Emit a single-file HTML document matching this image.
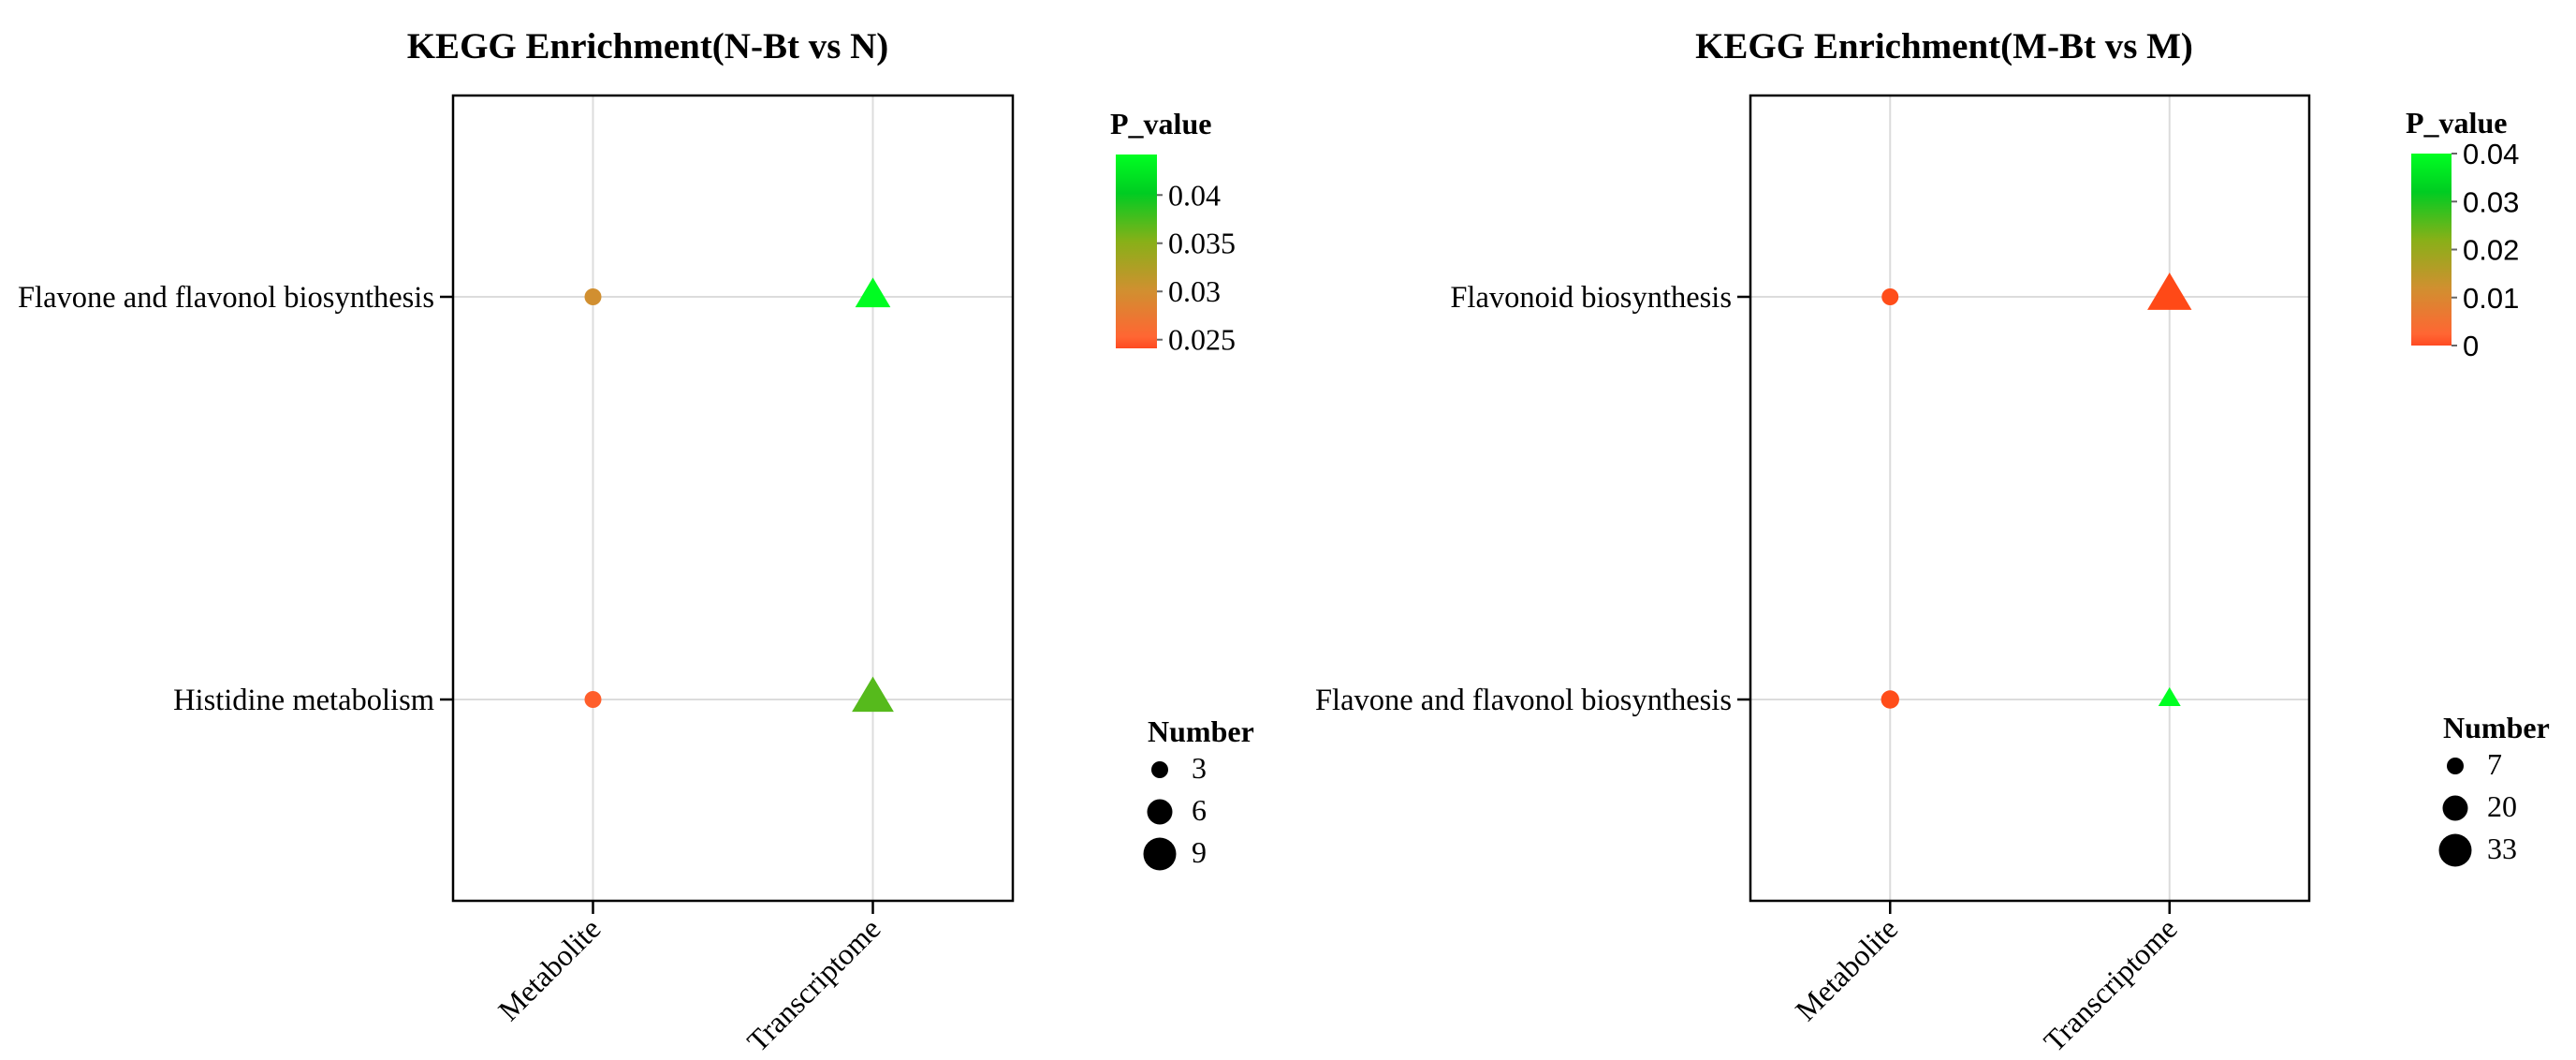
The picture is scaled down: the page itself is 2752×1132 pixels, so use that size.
<!DOCTYPE html>
<html><head><meta charset="utf-8"><style>
html,body{margin:0;padding:0;background:#fff;}
svg{display:block;}
text{font-family:"Liberation Serif",serif;fill:#000;}
</style></head><body>
<svg id="chart" width="2752" height="1132" viewBox="0 0 2752 1132" xmlns="http://www.w3.org/2000/svg">
<defs>
<linearGradient id="pgrad" x1="0" y1="1" x2="0" y2="0">
<stop offset="0" stop-color="#ff4a22"/>
<stop offset="0.06" stop-color="#ff6633"/>
<stop offset="0.3" stop-color="#d09030"/>
<stop offset="0.55" stop-color="#88b018"/>
<stop offset="0.8" stop-color="#00cc22"/>
<stop offset="1" stop-color="#00ff22"/>
</linearGradient>
</defs>
</svg>
<script>
// ---- Panel A data (N-Bt vs N)
const catsA = ["Metabolite", "Transcriptome"];
const pathwaysA = ["Flavone and flavonol biosynthesis", "Histidine metabolism"];
const pvalA = [[0.030, 0.044], [0.025, 0.037]];
const numA = [[3, 6.5], [3, 8.5]];
const pTicksA = [0.025, 0.03, 0.035, 0.04];
const pTickLabelsA = ["0.025", "0.03", "0.035", "0.04"];
const pRangeA = [0.0241, 0.0442];
const sizeLegendA = [3, 6, 9];
// ---- Panel B data (M-Bt vs M)
const catsB = ["Metabolite", "Transcriptome"];
const pathwaysB = ["Flavonoid biosynthesis", "Flavone and flavonol biosynthesis"];
const pvalB = [[0.0005, 0.0002], [0.0005, 0.04]];
const numB = [[7, 34], [9, 7]];
const pTicksB = [0, 0.01, 0.02, 0.03, 0.04];
const pTickLabelsB = ["0", "0.01", "0.02", "0.03", "0.04"];
const pRangeB = [0, 0.04];
const sizeLegendB = [7, 20, 33];

const NS = "http://www.w3.org/2000/svg";
const svg = document.getElementById("chart");
function mk(tag, attrs, parent) {
  const e = document.createElementNS(NS, tag);
  for (const k in attrs) e.setAttribute(k, attrs[k]);
  (parent || svg).appendChild(e);
  return e;
}
const stops = [[0,[255,70,20]],[0.06,[255,102,51]],[0.3,[208,144,48]],[0.55,[136,176,24]],[0.8,[0,204,34]],[1,[0,255,34]]];
function colorAt(t) {
  t = Math.max(0, Math.min(1, t));
  for (let i = 1; i < stops.length; i++) {
    if (t <= stops[i][0]) {
      const a = stops[i-1], b = stops[i], f = (t - a[0]) / (b[0] - a[0]);
      const c = a[1].map((v, j) => Math.round(v + (b[1][j] - v) * f));
      return "rgb(" + c.join(",") + ")";
    }
  }
  return "rgb(0,255,34)";
}

function drawPanel(cfg) {
  const g = mk("g", {});
  
  
  const L = cfg.box[0], T = cfg.box[1], R = cfg.box[2], B = cfg.box[3];
  const xs = c => L + (R - L) * (0.25 + 0.5 * c / (cfg.cats.length - 1));
  const ys = r => T + (B - T) * (0.25 + 0.5 * r / (cfg.paths.length - 1));
  const sz = cfg.sizeLeg, rr = [9, 13.5, 17.5];
  const rad = n => {
    if (n <= sz[1]) return rr[0] + (n - sz[0]) / (sz[1] - sz[0]) * (rr[1] - rr[0]);
    return rr[1] + (n - sz[1]) / (sz[2] - sz[1]) * (rr[2] - rr[1]);
  };
  const col = p => colorAt((p - cfg.pRange[0]) / (cfg.pRange[1] - cfg.pRange[0]));

  const title = mk("text", {x: cfg.titleX, y: 62, "text-anchor": "middle", "font-size": 39, "font-weight": "bold"}, g);
  title.textContent = cfg.title;
  
  

  cfg.cats.forEach((c, i) => {
    const gl = mk("line", {x1: xs(i), x2: xs(i), y1: T, y2: B, stroke: "#dcdcdc", "stroke-width": 2}, g);
    
    
  });
  cfg.paths.forEach((p, j) => {
    const gl = mk("line", {x1: L, x2: R, y1: ys(j), y2: ys(j), stroke: "#dcdcdc", "stroke-width": 2}, g);
    
    
  });
  const frame = mk("rect", {x: L, y: T, width: R - L, height: B - T, fill: "none", stroke: "#000", "stroke-width": 2.5}, g);
  
  

  cfg.paths.forEach((p, j) => {
    mk("line", {x1: L - 14, x2: L, y1: ys(j), y2: ys(j), stroke: "#000", "stroke-width": 2.5}, g);
    const t = mk("text", {x: L - 20, y: ys(j) + 11, "text-anchor": "end", "font-size": 32.5}, g);
    t.textContent = p;
    
    
  });
  cfg.cats.forEach((c, i) => {
    mk("line", {x1: xs(i), x2: xs(i), y1: B, y2: B + 14, stroke: "#000", "stroke-width": 2.5}, g);
    const t = mk("text", {x: 0, y: 0, "text-anchor": "end", "font-size": 32, transform: "translate(" + (xs(i) + 10) + "," + (B + 32) + ") rotate(-45)"}, g);
    t.textContent = c;
    
    
  });
  cfg.paths.forEach((p, j) => {
    cfg.cats.forEach((c, i) => {
      const n = cfg.num[j][i], pv = cfg.pval[j][i];
      const r = rad(n), cx = xs(i), cy = ys(j);
      let m;
      if (i === 0) {
        m = mk("circle", {cx: cx, cy: cy, r: r, fill: col(pv)}, g);
        
      } else {
        const s = r * 2 * 1.33, h = s * 0.84;
        m = mk("polygon", {points: (cx - s/2) + "," + (cy + h*0.35) + " " + (cx + s/2) + "," + (cy + h*0.35) + " " + cx + "," + (cy - h*0.65), fill: col(pv)}, g);
        
      }
      
    });
  });
  const cb = cfg.cbar;
  const pt = mk("text", {x: cb[0] - 6, y: cb[1] - 22, "font-size": 32, "font-weight": "bold"}, g);
  pt.textContent = "P_value";
  
  
  const bar = mk("rect", {x: cb[0], y: cb[1], width: cb[2], height: cb[3] - cb[1], fill: "url(#pgrad)"}, g);
  
  
  const py = v => cb[3] - (v - cfg.pRange[0]) / (cfg.pRange[1] - cfg.pRange[0]) * (cb[3] - cb[1]);
  cfg.pTicks.forEach((v, k) => {
    mk("line", {x1: cb[0] + cb[2], x2: cb[0] + cb[2] + 6, y1: py(v), y2: py(v), stroke: "#666", "stroke-width": 2}, g);
    const t = mk("text", {x: cb[0] + cb[2] + 12, y: py(v) + 11, "font-size": cfg.sansTicks ? 31 : 32, style: cfg.sansTicks ? "font-family:'Liberation Sans',sans-serif" : ""}, g);
    t.textContent = cfg.pTickLabels[k];
    
    
  });
  const sl = cfg.sleg;
  const st = mk("text", {x: sl[0], y: sl[1], "font-size": 32, "font-weight": "bold"}, g);
  st.textContent = "Number";
  
  
  cfg.sizeLeg.forEach((n, k) => {
    const cy = sl[3] + k * 45;
    const c = mk("circle", {cx: sl[2], cy: cy, r: rad(n), fill: "#000"}, g);
    
    
    const t = mk("text", {x: sl[2] + 34, y: cy + 9, "font-size": 32}, g);
    t.textContent = String(n);
    
    
  });
}

drawPanel({name: "panel-n-bt-vs-n", title: "KEGG Enrichment(N-Bt vs N)", titleX: 692,
  box: [484, 102, 1082, 962], cats: catsA, paths: pathwaysA, pval: pvalA, num: numA,
  pTicks: pTicksA, pTickLabels: pTickLabelsA, pRange: pRangeA, sizeLeg: sizeLegendA,
  cbar: [1192, 165, 44, 372], sansTicks: false, sleg: [1226, 792, 1239, 822]});
drawPanel({name: "panel-m-bt-vs-m", title: "KEGG Enrichment(M-Bt vs M)", titleX: 2077,
  box: [1870, 102, 2467, 962], cats: catsB, paths: pathwaysB, pval: pvalB, num: numB,
  pTicks: pTicksB, pTickLabels: pTickLabelsB, pRange: pRangeB, sizeLeg: sizeLegendB,
  cbar: [2576, 164, 43, 369], sansTicks: true, sleg: [2610, 788, 2623, 818]});
</script>
</body></html>
